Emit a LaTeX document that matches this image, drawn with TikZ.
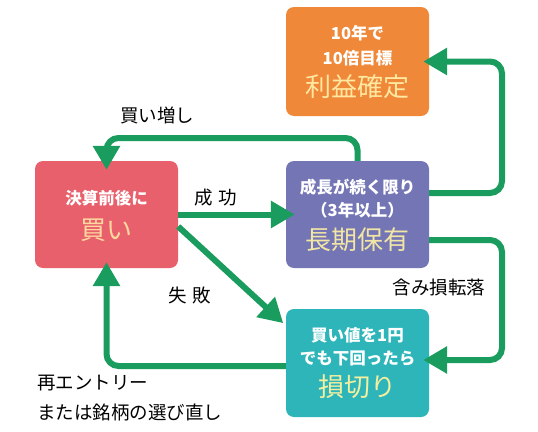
\documentclass[tikz,border=0pt]{standalone}
\usepackage{fontspec}
\setmainfont{Noto Sans CJK JP}
\usetikzlibrary{arrows.meta}
\definecolor{cgreen}{HTML}{199C5D}
\definecolor{corange}{HTML}{F0883A}
\definecolor{cred}{HTML}{E8606B}
\definecolor{cpurple}{HTML}{7475B5}
\definecolor{cteal}{HTML}{2DB5BA}
\definecolor{tor}{HTML}{FFE8A0}
\definecolor{tred}{HTML}{FFD8A0}
\definecolor{tpu}{HTML}{F2E6A5}
\definecolor{tte}{HTML}{F3EFA0}
\begin{document}
\begin{tikzpicture}[x=1pt,y=-1pt,
  box/.style={rounded corners=8pt,minimum width=143pt,inner sep=0pt},
  small/.style={text=white,inner sep=0pt,font=\fontsize{16.5}{16}\selectfont\bfseries},
  big/.style={inner sep=0pt,font=\fontsize{26}{26}\selectfont},
  lab/.style={text=black,inner sep=0pt,font=\fontsize{18.5}{19}\selectfont},
  conn/.style={draw=cgreen,line width=6pt,rounded corners=12pt,
    -{Triangle[width=26pt,length=24pt]},fill=none}]
\useasboundingbox (0,0) rectangle (538,431);
% boxes
\node[box,fill=corange,minimum height=109pt] (ob) at (357.5,61.5) {};
\node[box,fill=cred,minimum height=107pt] (rb) at (106.5,214.5) {};
\node[box,fill=cpurple,minimum height=107pt] (pb) at (357.5,214.5) {};
\node[box,fill=cteal,minimum height=108pt] (tb) at (357.5,363) {};
% box texts
\node[small] (o1) at (357.5,33) {10年で};
\node[small] (o2) at (357.5,58) {10倍目標};
\node[big,text=tor] (o3) at (357.5,87) {利益確定};
\node[small] (r1) at (106.5,198) {決算前後に};
\node[big,text=tred] (r2) at (106.5,230) {買い};
\node[small] (p1) at (357.5,187) {成長が続く限り};
\node[small] (p2) at (357.5,210) {（3年以上）};
\node[big,text=tpu] (p3) at (357.5,240) {長期保有};
\node[small] (t1) at (357.5,335) {買い値を1円};
\node[small] (t2) at (357.5,358) {でも下回ったら};
\node[big,text=tte] (t3) at (357.5,387) {損切り};
% connectors
\coordinate (c1) at (357.5,138);
\coordinate (c2) at (106.5,138);
\draw[conn,shorten >=-9pt] (pb.north) -- (c1) -- (c2) -- (rb.north);
\draw[conn,shorten >=-9pt] (rb.east) -- (pb.west);
\draw[conn,shorten >=-2pt] ([yshift=-12pt]rb.east) -- ([xshift=-4pt,yshift=-13pt]tb.north west);
\coordinate (c3) at (502,193);
\coordinate (c4) at (502,61.5);
\draw[conn,shorten >=-6pt] ([yshift=21.5pt]pb.east) -- (c3) -- (c4) -- (ob.east);
\coordinate (c5) at (502,240);
\coordinate (c6) at (502,360);
\draw[conn,shorten >=-6pt] ([yshift=-25.5pt]pb.east) -- (c5) -- (c6) -- ([yshift=3pt]tb.east);
\coordinate (c7) at (106.5,366);
\draw[conn,shorten >=-6pt] ([yshift=-3pt]tb.west) -- (c7) -- (rb.south);
% labels
\node[lab] (l1) at (157,115) {買い増し};
\node[lab] (l2) at (215.5,198) {成\hspace{6pt}功};
\node[lab] (l3) at (189.5,295) {失\hspace{6pt}敗};
\node[lab] (l4) at (439,287) {含み損転落};
\node[lab,anchor=west] (l5) at (37,383) {再エントリー};
\node[lab,anchor=west] (l6) at (37,412) {または銘柄の選び直し};
\end{tikzpicture}
\end{document}
